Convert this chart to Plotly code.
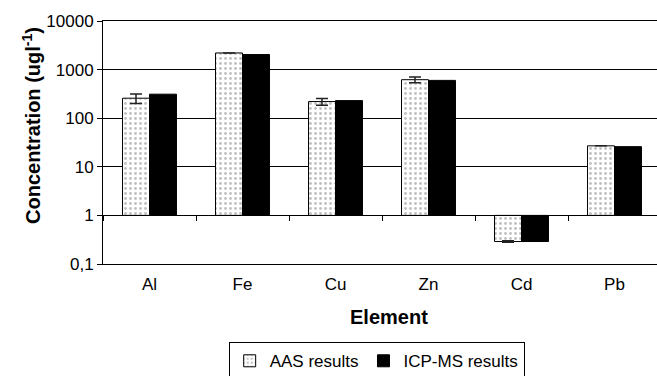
import plotly.graph_objects as go

elements = ["Al", "Fe", "Cu", "Zn", "Cd", "Pb"]
aas_values = [258, 2200, 220, 620, 0.29, 27]
aas_errors = [58, 0, 35, 85, 0.01, 0]
icp_values = [312, 2040, 230, 600, 0.29, 26]
ytick_vals = [0.1, 1, 10, 100, 1000, 10000]
ytick_text = ["0,1", "1", "10", "100", "1000", "10000"]

BASE = 1  # Excel-style log-axis bars grow from 1
FONT = "Liberation Sans, Arial, sans-serif"

fig = go.Figure()
fig.add_trace(go.Bar(
    name="AAS results", x=elements,
    y=[v - BASE for v in aas_values], base=BASE,
    marker=dict(color="white", line=dict(color="black", width=1),
                pattern=dict(shape=".", fgcolor="#808080", bgcolor="white",
                             size=5, solidity=0.25)),
    error_y=dict(type="data", array=aas_errors, color="#222222",
                 thickness=1.5, width=6),
))
fig.add_trace(go.Bar(
    name="ICP-MS results", x=elements,
    y=[v - BASE for v in icp_values], base=BASE,
    marker=dict(color="black", line=dict(color="black", width=1)),
))
# helper trace to carry the category axis that crosses at 1
fig.add_trace(go.Scatter(
    x=elements, y=icp_values, xaxis="x2", yaxis="y", mode="markers",
    marker=dict(opacity=0), showlegend=False, hoverinfo="skip",
))

xr = [-0.5, 5.457]
fig.update_layout(
    width=657, height=376,
    margin=dict(l=103, r=0, t=21, b=112, autoexpand=False),
    paper_bgcolor="white", plot_bgcolor="white",
    font=dict(family=FONT, size=17, color="black"),
    barmode="group", bargap=0.42, bargroupgap=0,
    xaxis=dict(type="category", range=xr, showline=True, mirror=True,
               linecolor="black", linewidth=1, ticks="", showgrid=False,
               tickfont=dict(size=17), ticklabelstandoff=5),
    xaxis2=dict(type="category", range=xr, overlaying="x", anchor="free",
                position=0.2, showline=True, linecolor="black", linewidth=1,
                ticks="outside", tickson="boundaries", ticklen=5,
                tickcolor="black", showticklabels=False, showgrid=False),
    yaxis=dict(type="log", range=[-1, 4], tickvals=ytick_vals,
               ticktext=ytick_text, showgrid=True, gridcolor="black",
               gridwidth=1, showline=True, linecolor="black", linewidth=1,
               ticks="outside", ticklen=5, tickcolor="black",
               tickfont=dict(size=17), zeroline=False),
    legend=dict(orientation="h", x=0.494, xanchor="center", y=-0.322,
                yanchor="top", bordercolor="black", borderwidth=1,
                font=dict(size=17), itemwidth=30, tracegroupgap=0,
                bgcolor="white"),
    annotations=[
        dict(text="<b>Concentration (ugl<sup>-1</sup>)</b>", xref="paper",
             yref="paper", x=-0.13, y=0.572, textangle=-90, showarrow=False,
             xanchor="center", yanchor="middle", font=dict(size=20)),
        dict(text="<b>Element</b>", xref="paper", yref="paper", x=0.516,
             y=-0.218, showarrow=False, xanchor="center", yanchor="middle",
             font=dict(size=20)),
    ],
)
fig.write_html("out.html")
